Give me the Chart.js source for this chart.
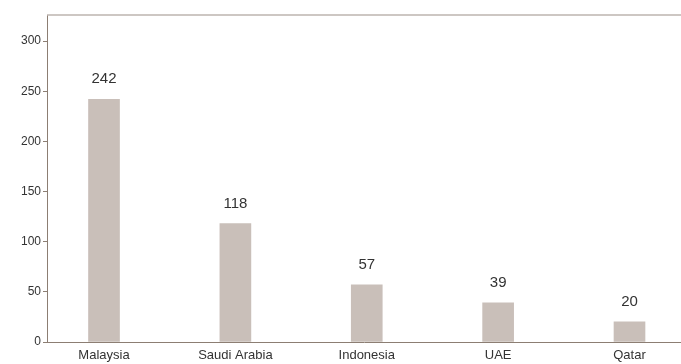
<!DOCTYPE html>
<html>
<head>
<meta charset="utf-8">
<script src="https://cdn.jsdelivr.net/npm/chart.js@4.4.0/dist/chart.umd.min.js"></script>
<style>
  html, body { margin: 0; padding: 0; background: #fff; }
  #wrap { width: 681px; height: 364px; position: relative; }
</style>
</head>
<body>
<div id="wrap"><canvas id="bars"></canvas></div>
<script>
var countries = ['Malaysia', 'Saudi Arabia', 'Indonesia', 'UAE', 'Qatar'];
var counts = [242, 118, 57, 39, 20];
var yTicks = [0, 50, 100, 150, 200, 250, 300];

var axisColor = '#8c7e73';
var barColor = '#c9bfb9';

// labels above the bars
var valueLabels = {
  id: 'valueLabels',
  afterDatasetsDraw: function(chart){
    var ctx = chart.ctx;
    var meta = chart.getDatasetMeta(0);
    ctx.save();
    ctx.font = '15px "Liberation Sans", Arial, sans-serif';
    ctx.fillStyle = '#333333';
    ctx.textAlign = 'center';
    ctx.textBaseline = 'middle';
    meta.data.forEach(function(bar, i){
      ctx.fillText(counts[i], bar.x, bar.y - 20);
    });
    ctx.restore();
  }
};

// thin line along the top of the plot
var topLine = {
  id: 'topLine',
  afterDraw: function(chart){
    var a = chart.chartArea;
    var ctx = chart.ctx;
    ctx.save();
    ctx.strokeStyle = '#bdb5af';
    ctx.lineWidth = 1.5;
    ctx.beginPath();
    ctx.moveTo(a.left, a.top);
    ctx.lineTo(a.right, a.top);
    ctx.stroke();
    ctx.restore();
  }
};

var ctx = document.getElementById('bars');
new Chart(ctx, {
  type: 'bar',
  data: {
    datasets: [{
      data: counts.map(function(v, i){ return { x: i, y: v }; }),
      backgroundColor: barColor,
      borderWidth: 0,
      barThickness: 31
    }]
  },
  options: {
    responsive: true,
    maintainAspectRatio: false,
    animation: false,
    layout: { padding: { top: 15, right: 0, left: 0, bottom: 0 } },
    plugins: { legend: { display: false }, tooltip: { enabled: false } },
    scales: {
      x: {
        type: 'linear',
        min: -0.434,
        max: 4.392,
        offset: false,
        grid: { display: false, drawTicks: false },
        border: { display: true, color: axisColor, width: 1 },
        afterBuildTicks: function(scale){
          scale.ticks = countries.map(function(c, i){ return { value: i }; });
        },
        afterFit: function(scale){ scale.height = 22; },
        ticks: {
          autoSkip: false,
          maxRotation: 0,
          padding: 6,
          color: '#333333',
          font: { family: '"Liberation Sans", Arial, sans-serif', size: 13 },
          callback: function(value){ return countries[value]; }
        }
      },
      y: {
        min: 0,
        max: 326,
        grid: { display: true, drawOnChartArea: false, tickLength: 4, color: axisColor },
        border: { display: true, color: axisColor, width: 1 },
        afterBuildTicks: function(scale){
          scale.ticks = yTicks.map(function(v){ return { value: v }; });
        },
        afterFit: function(scale){ scale.width = 47; },
        ticks: {
          padding: 2,
          color: '#333333',
          font: { family: '"Liberation Sans", Arial, sans-serif', size: 12 }
        }
      }
    }
  },
  plugins: [valueLabels, topLine]
});
</script>
</body>
</html>
